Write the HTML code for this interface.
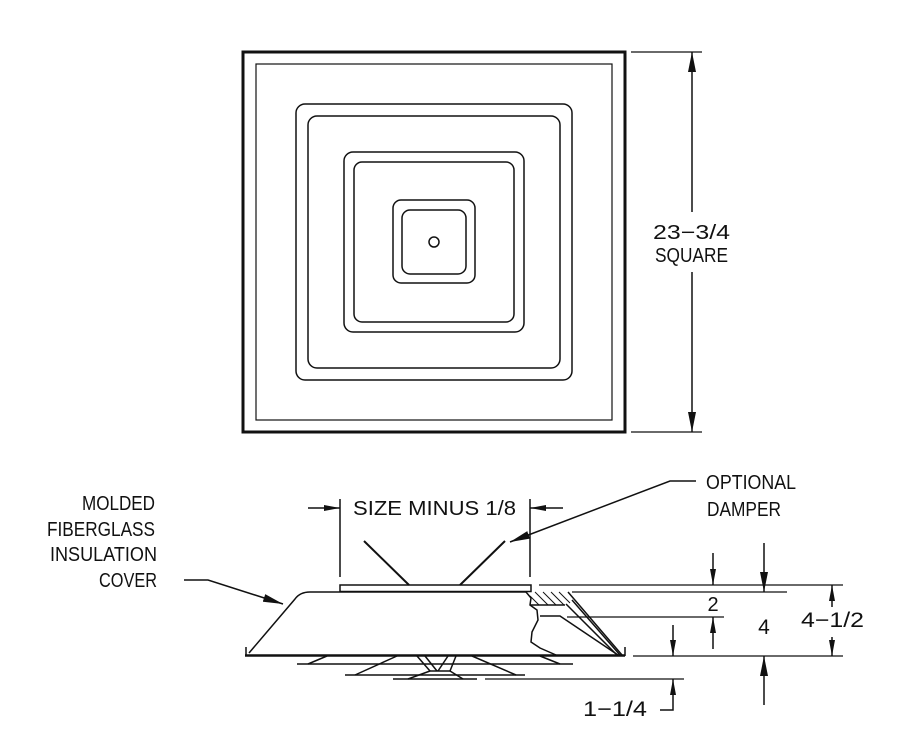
<!DOCTYPE html>
<html><head><meta charset="utf-8"><style>
html,body{margin:0;padding:0;background:#fff;}
svg{display:block;}
text{font-family:"Liberation Sans","DejaVu Sans",sans-serif;fill:#111;}
</style></head><body>
<svg width="900" height="748" viewBox="0 0 900 748" xmlns="http://www.w3.org/2000/svg">
<defs>
<marker id="ah" viewBox="0 0 20 8" refX="20" refY="4" markerWidth="20" markerHeight="8" markerUnits="userSpaceOnUse" orient="auto"><path d="M0,0 L20,4 L0,8 z" fill="#111"/></marker>
<marker id="as" viewBox="0 0 16 6" refX="16" refY="3" markerWidth="16" markerHeight="6" markerUnits="userSpaceOnUse" orient="auto"><path d="M0,0 L16,3 L0,6 z" fill="#111"/></marker>
</defs>
<g fill="none" stroke="#111" stroke-width="1.5">
<rect x="243" y="52" width="382" height="380" stroke-width="3"/>
<rect x="256" y="64" width="356" height="356" stroke-width="1.2"/>
<rect x="296" y="104" width="276" height="276" rx="9"/>
<rect x="308" y="116" width="252" height="252" rx="9"/>
<rect x="344" y="152" width="180" height="180" rx="9"/>
<rect x="354" y="162" width="160" height="160" rx="8"/>
<rect x="393" y="200" width="82" height="83" rx="8"/>
<rect x="402" y="210" width="64" height="64" rx="8"/>
<circle cx="434" cy="242" r="5"/>
<line x1="631" y1="52" x2="702" y2="52" stroke-width="1.2"/>
<line x1="631" y1="432" x2="702" y2="432" stroke-width="1.2"/>
<line x1="692" y1="212" x2="692" y2="52" marker-end="url(#ah)"/>
<line x1="692" y1="272" x2="692" y2="432" marker-end="url(#ah)"/>

<line x1="340" y1="499" x2="340" y2="577"/>
<line x1="530" y1="499" x2="530" y2="577"/>
<line x1="308" y1="508" x2="340" y2="508" marker-end="url(#as)"/>
<line x1="563" y1="508" x2="530" y2="508" marker-end="url(#as)"/>
<line x1="364" y1="541" x2="409" y2="585" stroke-width="2"/>
<line x1="505" y1="541" x2="460" y2="585" stroke-width="2"/>
<polyline points="696,481 670,481 510,542" marker-end="url(#ah)"/>
<rect x="340" y="585" width="191" height="6.5"/>
<path d="M527,592 L310,592 Q300,592 295,599 L249,653"/>
<line x1="245" y1="655.5" x2="625" y2="655.5" stroke-width="2.5"/>
<line x1="246" y1="647" x2="246" y2="656"/>
<line x1="625" y1="647" x2="625" y2="656"/>
<path d="M526,592 L531,598 L530,605 L537,610 L538,620 L532,632 L531,642 L540,648 L556,655"/>
<line x1="530" y1="605" x2="565" y2="605"/>
<path d="M540,616 L560,616 L618,655"/>
<line x1="568" y1="592" x2="622" y2="655"/>
<line x1="572" y1="600" x2="620" y2="655"/>
<line x1="566" y1="604" x2="617" y2="655"/>
<g stroke-width="1">
<line x1="530" y1="596" x2="539" y2="605"/>
<line x1="535" y1="592" x2="548" y2="605"/>
<line x1="543" y1="592" x2="556" y2="605"/>
<line x1="551" y1="592" x2="564" y2="605"/>
<line x1="559" y1="592" x2="570" y2="603"/>
</g>
<line x1="297" y1="664" x2="573" y2="664"/>
<line x1="327" y1="656" x2="308" y2="664"/>
<line x1="540" y1="656" x2="560" y2="664"/>
<line x1="345" y1="675" x2="525" y2="675"/>
<line x1="397" y1="656" x2="355" y2="675"/>
<line x1="472" y1="656" x2="516" y2="675"/>
<line x1="393" y1="679" x2="477" y2="679"/>
<line x1="417" y1="656" x2="430" y2="671"/>
<line x1="425" y1="656" x2="437" y2="671"/>
<line x1="448" y1="656" x2="438" y2="671"/>
<line x1="456" y1="656" x2="450" y2="671"/>
<line x1="430" y1="671" x2="450" y2="671"/>
<line x1="430" y1="671" x2="408" y2="679"/>
<line x1="450" y1="671" x2="463" y2="679"/>
<line x1="539" y1="585" x2="843" y2="585" stroke-width="1.2"/>
<line x1="572" y1="592" x2="787" y2="592" stroke-width="1.2"/>
<line x1="567" y1="617" x2="724" y2="617" stroke-width="1.2"/>
<line x1="633" y1="656" x2="843" y2="656" stroke-width="1.2"/>
<line x1="485" y1="679" x2="684" y2="679" stroke-width="1.2"/>
<line x1="713" y1="553" x2="713" y2="585" marker-end="url(#as)"/>
<line x1="713" y1="649" x2="713" y2="617" marker-end="url(#as)"/>
<line x1="764" y1="543" x2="764" y2="592" marker-end="url(#ah)"/>
<line x1="764" y1="705" x2="764" y2="656" marker-end="url(#ah)"/>
<line x1="673" y1="625" x2="673" y2="656" marker-end="url(#as)"/>
<polyline points="660,710 673,710 673,679" marker-end="url(#as)"/>
<line x1="832" y1="607" x2="832" y2="585" marker-end="url(#as)"/>
<line x1="832" y1="637" x2="832" y2="656" marker-end="url(#as)"/>
<polyline points="184,580 208,580 283,604" marker-end="url(#ah)"/>
</g>
<g font-size="20">
<text x="653" y="239" textLength="77" lengthAdjust="spacingAndGlyphs">23−3/4</text>
<text x="655" y="262" textLength="73" lengthAdjust="spacingAndGlyphs">SQUARE</text>
<text x="353" y="515" textLength="163" lengthAdjust="spacingAndGlyphs">SIZE  MINUS  1/8</text>
<text x="706" y="489" textLength="90" lengthAdjust="spacingAndGlyphs">OPTIONAL</text>
<text x="707" y="516" textLength="74" lengthAdjust="spacingAndGlyphs">DAMPER</text>
<text x="82" y="510" textLength="73" lengthAdjust="spacingAndGlyphs">MOLDED</text>
<text x="47" y="536" textLength="108" lengthAdjust="spacingAndGlyphs">FIBERGLASS</text>
<text x="50" y="561" textLength="107" lengthAdjust="spacingAndGlyphs">INSULATION</text>
<text x="99" y="587" textLength="58" lengthAdjust="spacingAndGlyphs">COVER</text>
<text x="713" y="611" text-anchor="middle">2</text>
<text x="764" y="634" text-anchor="middle" font-size="21">4</text>
<text x="801" y="627" font-size="21" textLength="63" lengthAdjust="spacingAndGlyphs">4−1/2</text>
<text x="583" y="716" font-size="21" textLength="64" lengthAdjust="spacingAndGlyphs">1−1/4</text>
</g>
</svg>
</body></html>
